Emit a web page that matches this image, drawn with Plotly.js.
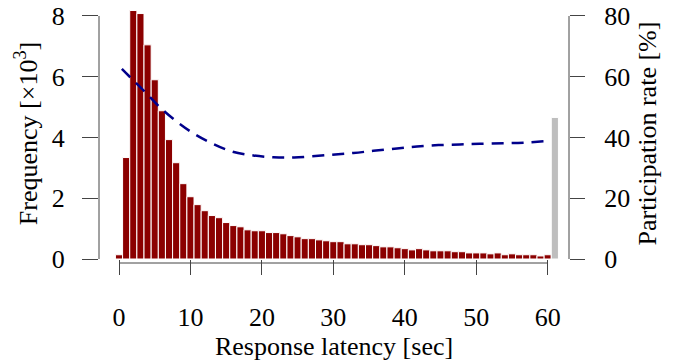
<!DOCTYPE html>
<html>
<head>
<meta charset="utf-8">
<script src="https://cdn.plot.ly/plotly-3.0.1.min.js"></script>
<style>html,body{margin:0;padding:0;background:#fff;}#chart{width:673px;height:364px;}</style>
</head>
<body>
<div id="chart"></div>
<script>
// Response latency bins (sec)
const latency = [0,1,2,3,4,5,6,7,8,9,10,11,12,13,14,15,16,17,18,19,20,21,22,23,24,25,26,27,28,29,30,31,32,33,34,35,36,37,38,39,40,41,42,43,44,45,46,47,48,49,50,51,52,53,54,55,56,57,58,59,60];
// Frequency (x10^3)
const frequency = [0.14,3.34,8.18,8.08,7.05,5.9,4.88,3.93,3.17,2.48,2.05,1.79,1.59,1.43,1.36,1.2,1.1,1.06,0.96,0.93,0.93,0.87,0.87,0.83,0.77,0.73,0.67,0.67,0.63,0.6,0.57,0.57,0.5,0.5,0.47,0.47,0.44,0.4,0.4,0.37,0.34,0.3,0.34,0.3,0.27,0.27,0.27,0.24,0.24,0.2,0.2,0.2,0.17,0.2,0.14,0.17,0.14,0.14,0.14,0.1,0.14];
// Non-response bar (%)
const noResponseX = [61];
const noResponsePct = [46.6];
// Participation rate curve (%)
const rateX = [0.4,1.5,3.6,5.7,8.1,10.4,13.0,15.8,18.8,21.6,24.5,29.1,32.8,35.6,38.9,41.7,44.7,47.7,50.5,53.8,56.6,60.3];
const rateY = [62.6,60.0,55.1,50.0,45.2,41.4,38.1,35.4,34.1,33.5,33.4,34.2,34.9,35.6,36.4,37.0,37.5,37.7,37.9,38.1,38.3,38.9];
const xTicks = [0,10,20,30,40,50,60];
const yTicks = [0,2,4,6,8];
const y2Ticks = [0,20,40,60,80];

const FONT = "Liberation Serif, Times New Roman, serif";
const AX = "#444";
const YTOP = 8.263;

const traces = [
  {type:"bar", x:latency, y:frequency, yaxis:"y", width:1,
   marker:{color:"#8B0000", line:{color:"#ffffff", width:1}}, hoverinfo:"x+y"},
  {type:"bar", x:noResponseX, y:noResponsePct, yaxis:"y2", width:1,
   marker:{color:"#BEBEBE", line:{color:"#ffffff", width:1}}},
  {type:"scatter", mode:"lines", x:rateX, y:rateY, yaxis:"y2",
   line:{color:"#00008B", width:2.5, dash:"12px,8px", shape:"spline", smoothing:1}}
];

const layout = {
  width:673, height:364,
  margin:{l:99, r:104, t:8, b:101},
  paper_bgcolor:"#fff", plot_bgcolor:"#fff",
  showlegend:false, barmode:"overlay",
  font:{family:FONT, size:26, color:"#000"},
  xaxis:{range:[-2.8,62.98], tickvals:xTicks, ticktext:xTicks.map(String),
    ticks:"outside", ticklen:15, tickwidth:1, tickcolor:AX, showline:false,
    showgrid:false, zeroline:false, ticklabelstandoff:20,
    title:{text:"Response latency [sec]", standoff:2, font:{size:26}}},
  yaxis:{domain:[0.01569,1], range:[0,YTOP], tickvals:yTicks,
    ticks:"outside", ticklen:16, tickwidth:1, tickcolor:AX,
    showline:false, showgrid:false, zeroline:false,
    ticklabelstandoff:12,
    title:{text:"Frequency [×10<sup>3</sup>]", standoff:6, font:{size:26}}},
  yaxis2:{domain:[0.01569,1], range:[0,YTOP*10], overlaying:"y", side:"right",
    tickvals:y2Ticks, ticks:"outside", ticklen:15, tickwidth:1, tickcolor:AX,
    showline:false, showgrid:false, zeroline:false,
    ticklabelstandoff:14,
    title:{text:"Participation rate [%]", standoff:8, font:{size:26}}},
  shapes:[
    {type:"line", xref:"x", yref:"paper", x0:0, x1:60, y0:0, y1:0, line:{color:AX, width:1}},
    {type:"line", xref:"paper", yref:"y", x0:0, x1:0, y0:0, y1:8, line:{color:AX, width:1}},
    {type:"line", xref:"paper", yref:"y2", x0:1, x1:1, y0:0, y1:80, line:{color:AX, width:1}}
  ]
};

Plotly.newPlot("chart", traces, layout, {displayModeBar:false, staticPlot:true});
</script>
</body>
</html>
